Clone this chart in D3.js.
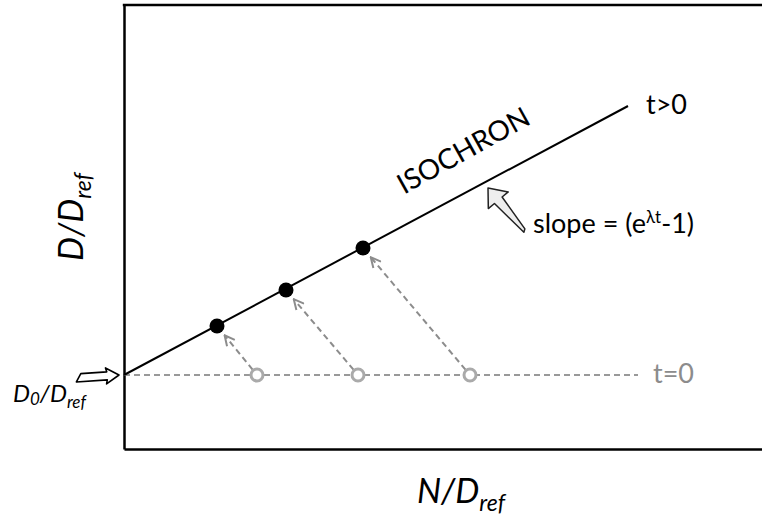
<!DOCTYPE html>
<html>
<head>
<meta charset="utf-8">
<script src="https://cdn.jsdelivr.net/npm/d3@7"></script>
<style>
  body { margin: 0; background: #fff; }
  svg { display: block; font-family: Lato, "Open Sans", sans-serif; }
</style>
</head>
<body>
<div id="chart"></div>
<script>
// schematic values, in units of D_ref
const initialN = [1.33, 2.34, 3.46];   // t = 0 (open circles)
const initialD = [0.74, 0.74, 0.74];
const finalN = [0.93, 1.62, 2.39];     // t > 0 (filled circles)
const finalD = [1.23, 1.59, 2.01];
const isochronN = [0, 5.04];
const isochronD = [0.74, 3.43];
const t0LineN = [0, 5.14];
const t0LineD = [0.74, 0.74];

const W = 762, H = 519;
const svg = d3.select('#chart').append('svg')
  .attr('width', W)
  .attr('height', H);

const x = d3.scaleLinear().domain([0, 6.4]).range([124, 764]);
const y = d3.scaleLinear().domain([0, 4.45]).range([449, 4]);

// frame (no ticks)
svg.append('g')
  .attr('transform', `translate(0,${y(0)})`)
  .call(d3.axisBottom(x).tickValues([]).tickSizeOuter(0))
  .select('.domain').attr('stroke-width', 2.5);
svg.append('g')
  .attr('transform', `translate(${x(0)},0)`)
  .call(d3.axisLeft(y).tickValues([]).tickSizeOuter(0))
  .select('.domain').attr('stroke-width', 2.5);
svg.append('line')
  .attr('x1', x(0) - 1.2).attr('x2', x(6.4))
  .attr('y1', y(4.45) + 1).attr('y2', y(4.45) + 1)
  .attr('stroke', '#000').attr('stroke-width', 2.5);

const defs = svg.append('defs');
defs.append('marker')
  .attr('id', 'head')
  .attr('viewBox', '0 0 12 12')
  .attr('refX', 11).attr('refY', 6)
  .attr('markerWidth', 12).attr('markerHeight', 12)
  .attr('markerUnits', 'userSpaceOnUse')
  .attr('orient', 'auto')
  .append('path')
  .attr('d', 'M1,1 L11,6 L1,11')
  .attr('fill', 'none')
  .attr('stroke', '#8c8c8c')
  .attr('stroke-width', 2);

// t = 0 dashed line
svg.append('line')
  .attr('x1', x(t0LineN[0])).attr('x2', x(t0LineN[1]))
  .attr('y1', y(t0LineD[0])).attr('y2', y(t0LineD[1]))
  .attr('stroke', '#999').attr('stroke-width', 2)
  .attr('stroke-dasharray', '6,4');

// isochron
svg.append('line')
  .attr('x1', x(isochronN[0])).attr('x2', x(isochronN[1]))
  .attr('y1', y(isochronD[0])).attr('y2', y(isochronD[1]))
  .attr('stroke', '#000').attr('stroke-width', 2);

// dashed decay arrows
initialN.forEach((n, i) => {
  const x0 = x(n), y0 = y(initialD[i]);
  const x1 = x(finalN[i]), y1 = y(finalD[i]);
  const len = Math.hypot(x1 - x0, y1 - y0);
  const ux = (x1 - x0) / len, uy = (y1 - y0) / len;
  svg.append('line')
    .attr('x1', x0 + ux * 7).attr('y1', y0 + uy * 7)
    .attr('x2', x1 - ux * 12).attr('y2', y1 - uy * 12)
    .attr('stroke', '#8c8c8c').attr('stroke-width', 2)
    .attr('stroke-dasharray', '6,4')
    .attr('marker-end', 'url(#head)');
});

svg.selectAll('circle.open')
  .data(initialN)
  .enter().append('circle')
  .attr('class', 'open')
  .attr('cx', d => x(d))
  .attr('cy', (d, i) => y(initialD[i]))
  .attr('r', 6)
  .attr('fill', '#fff')
  .attr('stroke', '#aaa')
  .attr('stroke-width', 3);

svg.selectAll('circle.filled')
  .data(finalN)
  .enter().append('circle')
  .attr('class', 'filled')
  .attr('cx', d => x(d))
  .attr('cy', (d, i) => y(finalD[i]))
  .attr('r', 7.5)
  .attr('fill', '#000');

// labels
const angle = Math.atan2(y(isochronD[1]) - y(isochronD[0]), x(isochronN[1]) - x(isochronN[0])) * 180 / Math.PI;
svg.append('text')
  .attr('transform', `translate(468,159) rotate(${angle - 1})`)
  .attr('text-anchor', 'middle')
  .attr('font-size', 28)
  .text('ISOCHRON');

svg.append('text')
  .attr('x', x(isochronN[1]) + 18).attr('y', y(isochronD[1]) + 8)
  .attr('font-size', 27)
  .text('t>0');

svg.append('text')
  .attr('x', x(t0LineN[1]) + 15).attr('y', y(t0LineD[1]) + 8)
  .attr('font-size', 27)
  .attr('fill', '#8c8c8c')
  .text('t=0');

const slope = svg.append('text')
  .attr('x', 533).attr('y', 233)
  .attr('font-size', 27);
slope.append('tspan').text('slope = (e');
slope.append('tspan').attr('font-size', 17).attr('dy', -10).text('λt');
slope.append('tspan').attr('dy', 10).text('-1)');

// block arrow pointing at the isochron
const blockArrow = 'M0,0 L-16,-13 L-16,-5 L-57,-1 L-55,2 L-16,5 L-16,13 Z';
svg.append('path')
  .attr('d', blockArrow)
  .attr('transform', 'translate(488,188) rotate(230)')
  .attr('fill', '#eee')
  .attr('stroke', '#222')
  .attr('stroke-width', 1.5)
  .attr('stroke-linejoin', 'round');

// arrow pointing at D0
svg.append('path')
  .attr('d', 'M0,0 L-13,-8 L-12,-4 L-38,-4 L-43,4 L-12,4 L-13,8 Z')
  .attr('transform', `translate(${x(0) - 5},${y(initialD[0])}) rotate(-4)`)
  .attr('fill', '#fff')
  .attr('stroke', '#000')
  .attr('stroke-width', 1.6)
  .attr('stroke-linejoin', 'round');

const d0 = svg.append('text')
  .attr('x', 13).attr('y', 402)
  .attr('font-size', 24)
  .attr('font-style', 'italic');
d0.append('tspan').text('D');
d0.append('tspan').attr('font-size', 17).attr('dy', 3).text('0');
d0.append('tspan').attr('dy', -3).text('/D');
d0.append('tspan').attr('font-size', 17).attr('dy', 6).text('ref');

const yl = svg.append('text')
  .attr('transform', 'translate(83,217) rotate(-90)')
  .attr('text-anchor', 'middle')
  .attr('font-size', 34)
  .attr('font-style', 'italic');
yl.append('tspan').text('D/D');
yl.append('tspan').attr('font-size', 23).attr('dy', 8).text('ref');

const xl = svg.append('text')
  .attr('x', 461).attr('y', 503)
  .attr('text-anchor', 'middle')
  .attr('font-size', 34)
  .attr('font-style', 'italic');
xl.append('tspan').text('N/D');
xl.append('tspan').attr('font-size', 23).attr('dy', 8).text('ref');
</script>
</body>
</html>
